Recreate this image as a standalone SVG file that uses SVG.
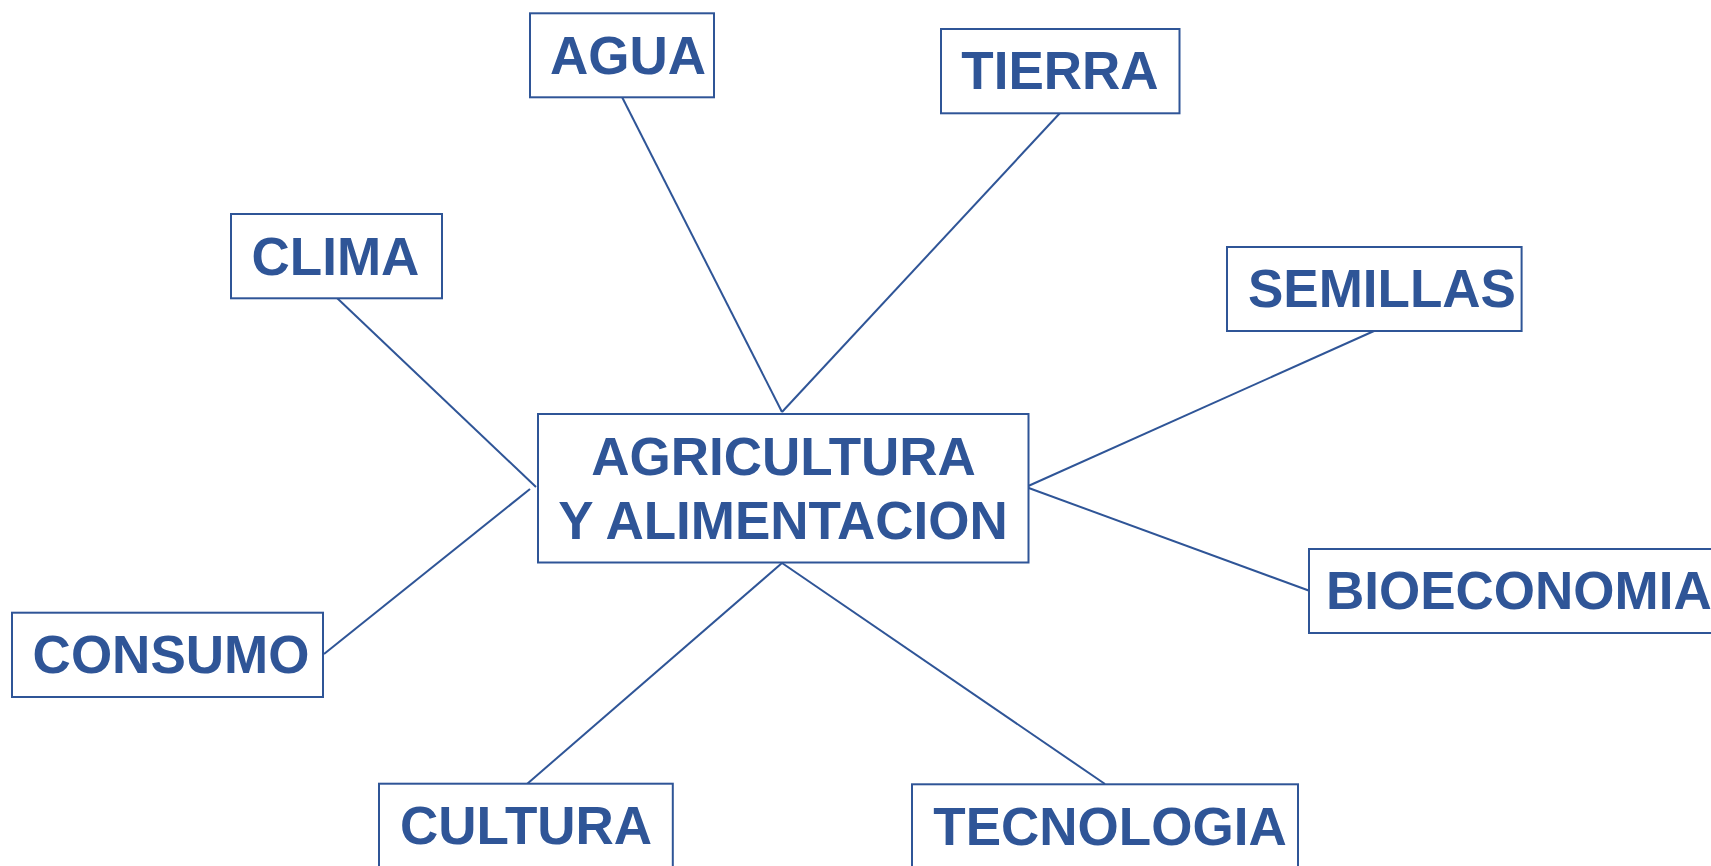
<svg xmlns="http://www.w3.org/2000/svg" width="1711" height="866" viewBox="0 0 1711 866">
<style>
.box{fill:#fff;stroke:#2F5597;stroke-width:2}
.lbl{font-family:"Liberation Sans",Arial,sans-serif;font-weight:bold;font-size:53px;fill:#2F5597;text-anchor:middle}
.con line{stroke:#2F5597;stroke-width:2;stroke-linecap:butt}
</style>
<rect width="1711" height="866" fill="#fff"/>
<g class="con" id="connectors">
<line x1="622" y1="97" x2="782" y2="412"/>
<line x1="1060" y1="113" x2="782" y2="412"/>
<line x1="337" y1="298" x2="536" y2="487"/>
<line x1="324" y1="654" x2="530" y2="489"/>
<line x1="1374" y1="331" x2="1026" y2="487"/>
<line x1="1310" y1="591" x2="1026" y2="487"/>
<line x1="527" y1="784" x2="782" y2="563"/>
<line x1="1105" y1="784" x2="782" y2="563"/>
</g>
<g id="center">
<rect class="box" x="538" y="414" width="490.5" height="148.5"/>
<text class="lbl" x="783.5" y="475">AGRICULTURA</text>
<text class="lbl" x="783" y="539">Y ALIMENTACION</text>
</g>
<g id="agua">
<rect class="box" x="530" y="13.3" width="184" height="84"/>
<text class="lbl" x="628" y="74">AGUA</text>
</g>
<g id="tierra">
<rect class="box" x="941" y="29" width="238.5" height="84.3"/>
<text class="lbl" x="1060" y="89.3">TIERRA</text>
</g>
<g id="clima">
<rect class="box" x="231" y="214" width="211" height="84.3"/>
<text class="lbl" x="335.5" y="275">CLIMA</text>
</g>
<g id="semillas">
<rect class="box" x="1227" y="247" width="294.6" height="84"/>
<text class="lbl" x="1382" y="306.7">SEMILLAS</text>
</g>
<g id="bioeconomia">
<rect class="box" x="1309" y="549" width="430" height="84"/>
<text class="lbl" x="1326" y="609" style="text-anchor:start">BIOECONOMIA</text>
</g>
<g id="consumo">
<rect class="box" x="12" y="612.7" width="311" height="84.3"/>
<text class="lbl" x="171" y="672.7">CONSUMO</text>
</g>
<g id="cultura">
<rect class="box" x="379" y="783.7" width="293.8" height="100"/>
<text class="lbl" x="526" y="844.3">CULTURA</text>
</g>
<g id="tecnologia">
<rect class="box" x="912" y="784.3" width="386" height="100"/>
<text class="lbl" x="1110" y="844.7">TECNOLOGIA</text>
</g>
</svg>
